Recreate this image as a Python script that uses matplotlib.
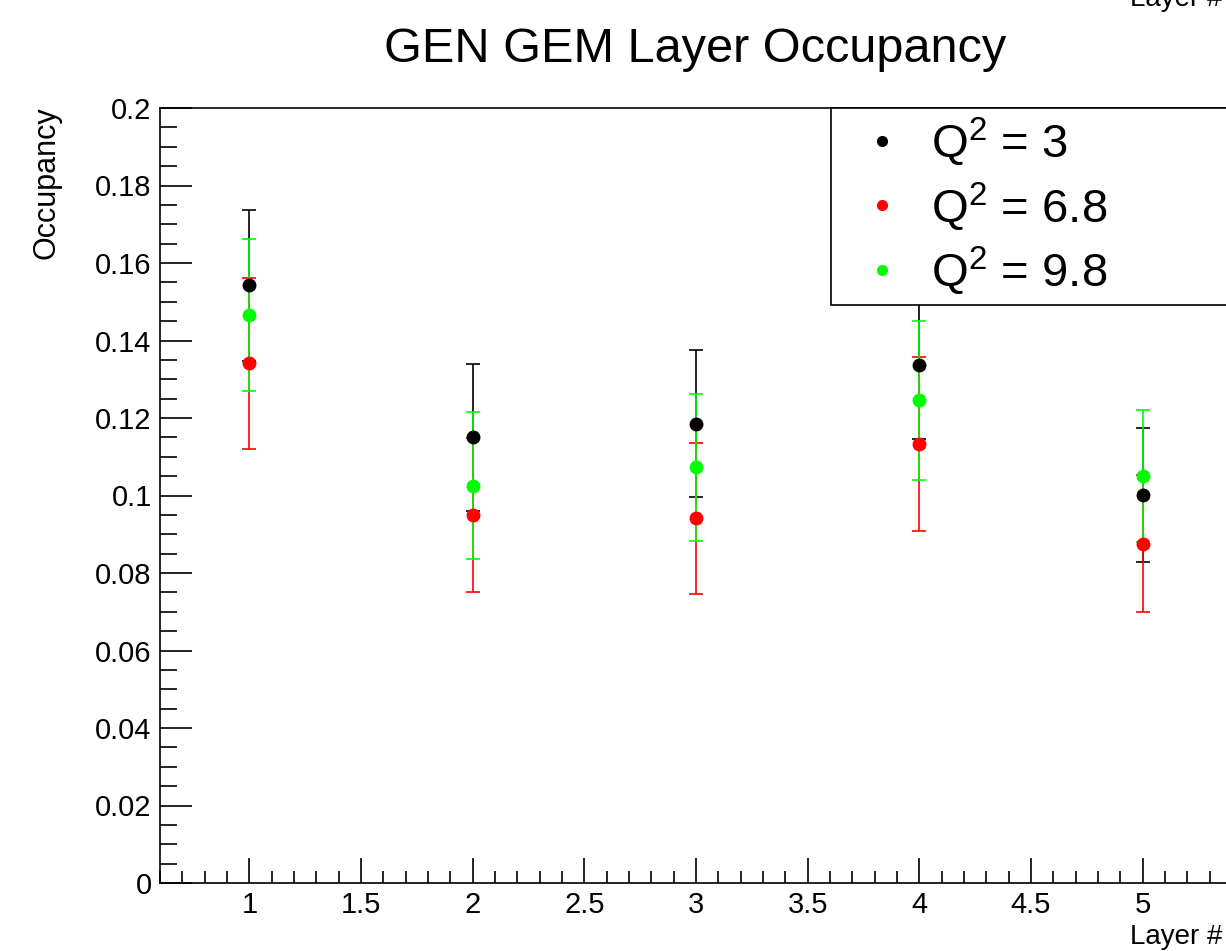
import matplotlib
matplotlib.use("Agg")
import matplotlib.pyplot as plt
from matplotlib.ticker import MultipleLocator
from matplotlib.lines import Line2D

plt.rcParams['font.family'] = ['Liberation Sans', 'DejaVu Sans']
plt.rcParams['mathtext.default'] = 'regular'

# データ
layers = [1, 2, 3, 4, 5]
occ_q3 = [0.1543, 0.1150, 0.1185, 0.1337, 0.1001]
err_q3 = [0.0195, 0.0190, 0.0190, 0.0190, 0.0172]
occ_q68 = [0.1341, 0.0950, 0.0941, 0.1133, 0.0876]
err_q68 = [0.0220, 0.0198, 0.0195, 0.0225, 0.0177]
occ_q98 = [0.1466, 0.1025, 0.1073, 0.1246, 0.1050]
err_q98 = [0.0197, 0.0190, 0.0190, 0.0205, 0.0170]

labels = ['$Q^{2}$ = 3', '$Q^{2}$ = 6.8', '$Q^{2}$ = 9.8']
colors = ['black', '#ff0000', '#00ff00']

fig = plt.figure(figsize=(12.26, 9.51), dpi=100)
ax = fig.add_axes([160 / 1226, 1 - 883 / 951, 1072 / 1226, 775 / 951])

series = [(occ_q3, err_q3), (occ_q68, err_q68), (occ_q98, err_q98)]
for (ys, es), col in zip(series, colors):
    ax.errorbar(layers, ys, yerr=es, fmt='o', color=col, ecolor=col,
                markersize=9, elinewidth=1.2, capsize=5, capthick=1.2, zorder=3)

ax.set_xlim(0.6, 5.4)
ax.set_ylim(0, 0.2)

# 目盛り
ax.xaxis.set_major_locator(MultipleLocator(0.5))
ax.xaxis.set_minor_locator(MultipleLocator(0.1))
ax.yaxis.set_major_locator(MultipleLocator(0.02))
ax.yaxis.set_minor_locator(MultipleLocator(0.005))
ax.tick_params(axis='both', which='both', direction='in', top=False, right=False,
               labelsize=21, width=1.2)
ax.tick_params(axis='x', which='major', length=18, pad=6)
ax.tick_params(axis='x', which='minor', length=9)
ax.tick_params(axis='y', which='major', length=23, pad=6)
ax.tick_params(axis='y', which='minor', length=12)
ax.set_yticks([0, 0.02, 0.04, 0.06, 0.08, 0.1, 0.12, 0.14, 0.16, 0.18, 0.2])
ax.set_yticklabels(['0', '0.02', '0.04', '0.06', '0.08', '0.1', '0.12', '0.14',
                    '0.16', '0.18', '0.2'])
ax.set_xticks([1, 1.5, 2, 2.5, 3, 3.5, 4, 4.5, 5])
ax.set_xticklabels(['1', '1.5', '2', '2.5', '3', '3.5', '4', '4.5', '5'])
for sp in ax.spines.values():
    sp.set_linewidth(1.2)

# ラベルとタイトル
fig.text(47 / 1226, 1 - 106 / 951, 'Occupancy', fontsize=22, rotation=90,
         ha='center', va='top')
fig.text(1222 / 1226, 1 - 944 / 951, 'Layer #', fontsize=20, ha='right', va='baseline')
fig.text(1222 / 1226, 1 - 6 / 951, 'Layer #', fontsize=20, ha='right', va='baseline')
fig.text(695 / 1226, 1 - 62 / 951, 'GEN GEM Layer Occupancy', fontsize=35,
         ha='center', va='baseline')

# 凡例
handles = [Line2D([], [], marker='o', ls='none', color=c, markersize=7) for c in colors]
x0 = (831 - 160) / 1072
y0 = (883 - 301) / 775
leg = ax.legend(handles, labels, loc='upper left', bbox_to_anchor=(x0, y0, 1.02 - x0, 1 - y0),
                mode='expand', borderaxespad=0, fontsize=34, frameon=True,
                fancybox=False, framealpha=1, edgecolor='black',
                handlelength=1.8, handletextpad=0.15, labelspacing=0.26,
                borderpad=0.17)
leg.get_frame().set_linewidth(1.2)
leg.set_zorder(5)

fig.savefig('out.png', dpi=100)
